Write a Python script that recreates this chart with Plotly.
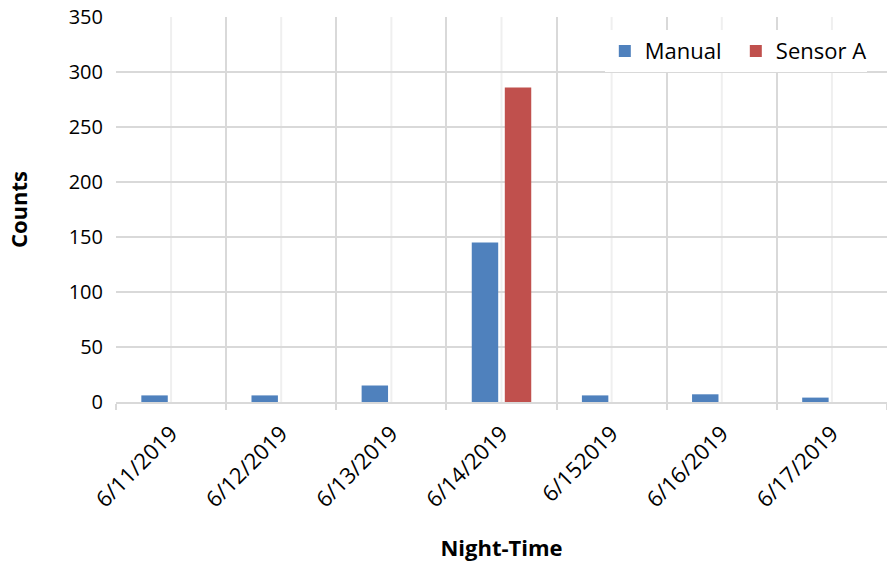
import plotly.graph_objects as go

# Nightly counts by date
nights = ["6/11/2019", "6/12/2019", "6/13/2019", "6/14/2019",
          "6/152019", "6/16/2019", "6/17/2019"]
manual_counts = [6, 6, 15, 145, 6, 7, 4]
sensor_a_counts = [0, 0, 0, 286, 0, 0, 0]

y_ticks = [0, 50, 100, 150, 200, 250, 300, 350]

BLUE = "#4F81BD"
RED = "#C0504D"
GRID = "#D9D9D9"
GRID_LIGHT = "#EFEFEF"
FONT = "Open Sans"

fig = go.Figure()
fig.add_trace(go.Bar(name="Manual", x=nights, y=manual_counts,
                     marker=dict(color=BLUE, line=dict(width=0))))
fig.add_trace(go.Bar(name="Sensor A", x=nights, y=sensor_a_counts,
                     marker=dict(color=RED, line=dict(width=0))))

# light lines through the middle of every category
for n in nights:
    fig.add_shape(type="line", x0=n, x1=n, xref="x", y0=0, y1=1, yref="paper",
                  line=dict(color=GRID_LIGHT, width=2), layer="below")

fig.update_layout(
    width=887, height=566,
    margin=dict(l=116, r=0, t=17, b=164, autoexpand=False),
    paper_bgcolor="white", plot_bgcolor="white",
    barmode="group", bargap=0.40, bargroupgap=0.2,
    font=dict(family=FONT, size=20, color="#000000"),
    legend=dict(orientation="h", x=0.634, xanchor="left", y=0.966, yanchor="top",
                bgcolor="white", font=dict(size=22), traceorder="normal",
                itemwidth=30, entrywidth=86),
    showlegend=True,
)

fig.update_xaxes(
    type="category", tickson="boundaries", tickangle=-45,
    showgrid=True, gridcolor=GRID, gridwidth=2,
    ticks="outside", ticklen=6, tickcolor=GRID, tickwidth=2,
    showline=True, linecolor=GRID, linewidth=2,
    tickfont=dict(size=22), ticklabelstandoff=8,
    title=dict(text="<b>Night-Time</b>", font=dict(size=22), standoff=28),
)
fig.update_yaxes(
    range=[0, 350], tickvals=y_ticks,
    showgrid=True, gridcolor=GRID, gridwidth=2,
    zeroline=False, showline=False,
    ticks="", ticklabelstandoff=12,
    tickfont=dict(size=20),
    title=dict(text="<b>Counts</b>", font=dict(size=22), standoff=34),
)

fig.write_html("out.html")
